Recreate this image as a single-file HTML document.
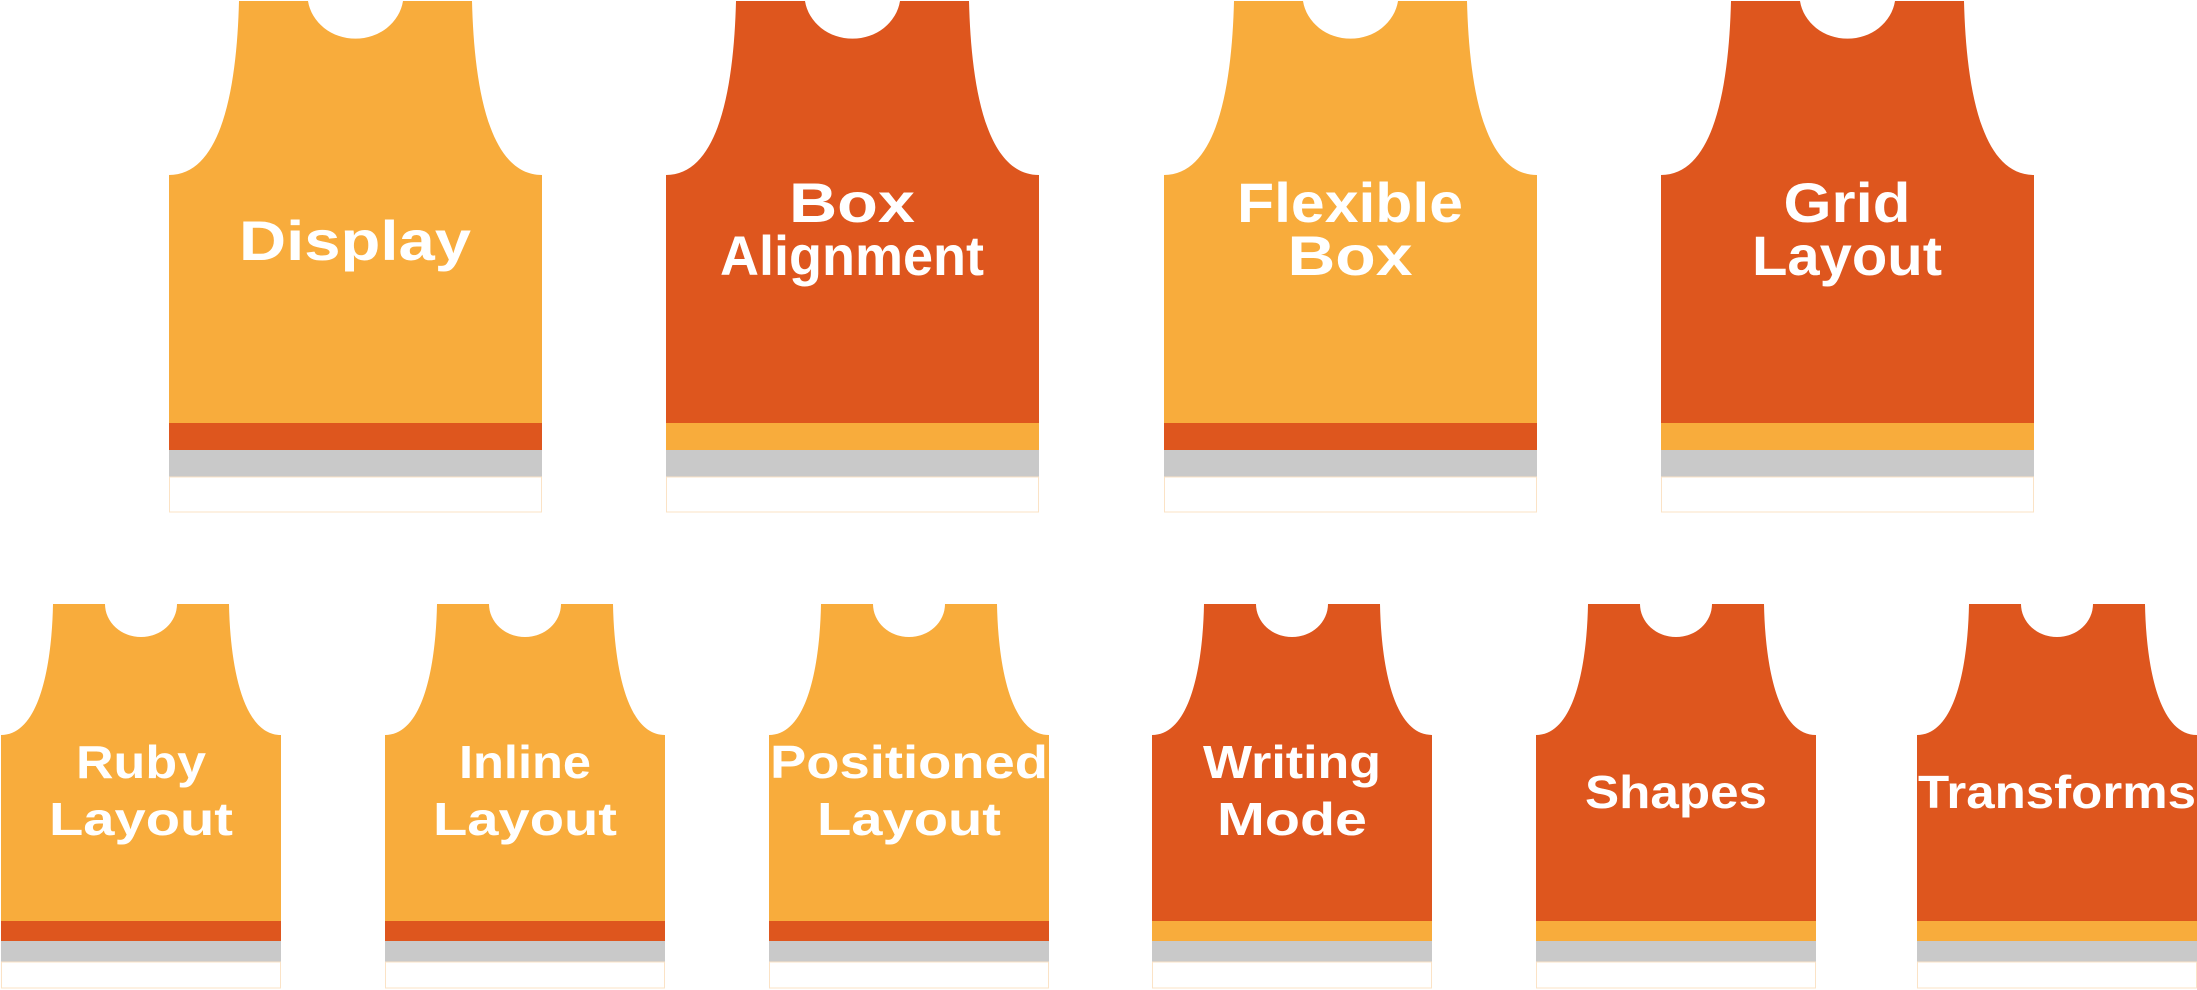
<!DOCTYPE html>
<html><head><meta charset="utf-8"><style>html,body{margin:0;padding:0;background:#fff}svg{display:block}</style></head>
<body>
<svg width="2197" height="990" viewBox="0 0 2197 990" xmlns="http://www.w3.org/2000/svg" font-family="Liberation Sans, sans-serif" fill="#fff">
<defs>
<path id="tb" d="M70 1 L139 1 A48 44 0 0 0 234 1 L303 1 C305 80 318 175 373 175 L373 423 L0 423 L0 175 C55 175 68 80 70 1 Z"/>
<path id="bb" d="M52 604 L104 604 A36 33 0 0 0 176 604 L228 604 C229 660 240 735 280 735 L280 921 L0 921 L0 735 C40 735 51 660 52 604 Z"/>
</defs>
<g>
<g transform="translate(169,0)"><use href="#tb" fill="#f8ac3c"/><rect x="0" y="423" width="373" height="27" fill="#de561e"/><rect x="0" y="450" width="373" height="27" fill="#c9c9c9"/><rect x="0.5" y="477" width="372" height="35" fill="#fff" stroke="#fbe3c6"/></g>
<g transform="translate(666,0)"><use href="#tb" fill="#de561e"/><rect x="0" y="423" width="373" height="27" fill="#f8ac3c"/><rect x="0" y="450" width="373" height="27" fill="#c9c9c9"/><rect x="0.5" y="477" width="372" height="35" fill="#fff" stroke="#fbe3c6"/></g>
<g transform="translate(1164,0)"><use href="#tb" fill="#f8ac3c"/><rect x="0" y="423" width="373" height="27" fill="#de561e"/><rect x="0" y="450" width="373" height="27" fill="#c9c9c9"/><rect x="0.5" y="477" width="372" height="35" fill="#fff" stroke="#fbe3c6"/></g>
<g transform="translate(1661,0)"><use href="#tb" fill="#de561e"/><rect x="0" y="423" width="373" height="27" fill="#f8ac3c"/><rect x="0" y="450" width="373" height="27" fill="#c9c9c9"/><rect x="0.5" y="477" width="372" height="35" fill="#fff" stroke="#fbe3c6"/></g>
</g>
<g font-size="56" font-weight="bold" text-anchor="middle">
<text x="355" y="260" textLength="232" lengthAdjust="spacingAndGlyphs">Display</text>
<text x="852" y="222" textLength="126" lengthAdjust="spacingAndGlyphs">Box</text>
<text x="852" y="275" textLength="264" lengthAdjust="spacingAndGlyphs">Alignment</text>
<text x="1350" y="222" textLength="226" lengthAdjust="spacingAndGlyphs">Flexible</text>
<text x="1350" y="275" textLength="125" lengthAdjust="spacingAndGlyphs">Box</text>
<text x="1847" y="222" textLength="127" lengthAdjust="spacingAndGlyphs">Grid</text>
<text x="1847" y="275" textLength="190" lengthAdjust="spacingAndGlyphs">Layout</text>
</g>
<g>
<g transform="translate(1,0)"><use href="#bb" fill="#f8ac3c"/><rect x="0" y="921" width="280" height="20" fill="#de561e"/><rect x="0" y="941" width="280" height="21" fill="#c9c9c9"/><rect x="0.5" y="962" width="279" height="26" fill="#fff" stroke="#fbe3c6"/></g>
<g transform="translate(385,0)"><use href="#bb" fill="#f8ac3c"/><rect x="0" y="921" width="280" height="20" fill="#de561e"/><rect x="0" y="941" width="280" height="21" fill="#c9c9c9"/><rect x="0.5" y="962" width="279" height="26" fill="#fff" stroke="#fbe3c6"/></g>
<g transform="translate(769,0)"><use href="#bb" fill="#f8ac3c"/><rect x="0" y="921" width="280" height="20" fill="#de561e"/><rect x="0" y="941" width="280" height="21" fill="#c9c9c9"/><rect x="0.5" y="962" width="279" height="26" fill="#fff" stroke="#fbe3c6"/></g>
<g transform="translate(1152,0)"><use href="#bb" fill="#de561e"/><rect x="0" y="921" width="280" height="20" fill="#f8ac3c"/><rect x="0" y="941" width="280" height="21" fill="#c9c9c9"/><rect x="0.5" y="962" width="279" height="26" fill="#fff" stroke="#fbe3c6"/></g>
<g transform="translate(1536,0)"><use href="#bb" fill="#de561e"/><rect x="0" y="921" width="280" height="20" fill="#f8ac3c"/><rect x="0" y="941" width="280" height="21" fill="#c9c9c9"/><rect x="0.5" y="962" width="279" height="26" fill="#fff" stroke="#fbe3c6"/></g>
<g transform="translate(1917,0)"><use href="#bb" fill="#de561e"/><rect x="0" y="921" width="280" height="20" fill="#f8ac3c"/><rect x="0" y="941" width="280" height="21" fill="#c9c9c9"/><rect x="0.5" y="962" width="279" height="26" fill="#fff" stroke="#fbe3c6"/></g>
</g>
<g font-size="46" font-weight="bold" text-anchor="middle">
<text x="141" y="778" textLength="130" lengthAdjust="spacingAndGlyphs">Ruby</text>
<text x="141" y="835" textLength="184" lengthAdjust="spacingAndGlyphs">Layout</text>
<text x="525" y="778" textLength="132" lengthAdjust="spacingAndGlyphs">Inline</text>
<text x="525" y="835" textLength="184" lengthAdjust="spacingAndGlyphs">Layout</text>
<text x="909" y="778" textLength="278" lengthAdjust="spacingAndGlyphs">Positioned</text>
<text x="909" y="835" textLength="184" lengthAdjust="spacingAndGlyphs">Layout</text>
<text x="1292" y="778" textLength="178" lengthAdjust="spacingAndGlyphs">Writing</text>
<text x="1292" y="835" textLength="150" lengthAdjust="spacingAndGlyphs">Mode</text>
<text x="1676" y="808" textLength="182" lengthAdjust="spacingAndGlyphs">Shapes</text>
<text x="2057" y="808" textLength="278" lengthAdjust="spacingAndGlyphs">Transforms</text>
</g>
</svg>
</body></html>
